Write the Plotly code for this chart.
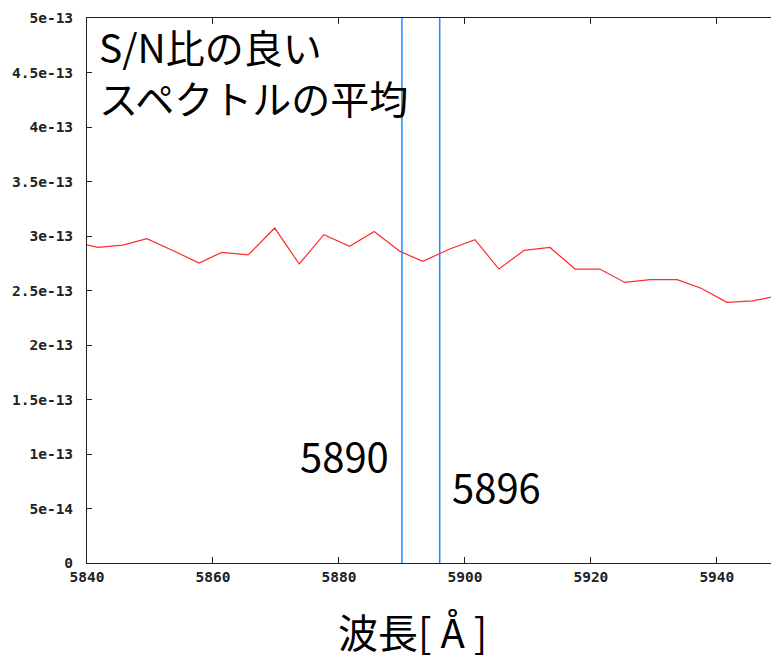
import plotly.graph_objects as go

# ---- data ----
wavelength = [5837.8, 5841.7, 5845.7, 5849.5, 5853.7, 5857.8, 5861.4, 5865.6, 5869.8,
              5873.7, 5877.6, 5881.7, 5885.6, 5889.7, 5893.3, 5897.6, 5901.6, 5905.4,
              5909.4, 5913.5, 5917.5, 5921.4, 5925.4, 5929.4, 5933.7, 5937.5, 5941.6,
              5945.7, 5949.7]
flux_1e13 = [2.95, 2.895, 2.916, 2.975, 2.865, 2.752, 2.850, 2.826, 3.073,
             2.743, 3.012, 2.905, 3.042, 2.859, 2.767, 2.881, 2.966, 2.697,
             2.868, 2.895, 2.697, 2.697, 2.574, 2.599, 2.599, 2.521, 2.391,
             2.404, 2.452]
flux = [v * 1e-13 for v in flux_1e13]

marker_lines = [5890, 5896]
marker_labels = ["5890", "5896"]

x_tickvals = [5840, 5860, 5880, 5900, 5920, 5940]
x_ticktext = ["5840", "5860", "5880", "5900", "5920", "5940"]
y_tickvals = [0, 5e-14, 1e-13, 1.5e-13, 2e-13, 2.5e-13, 3e-13, 3.5e-13, 4e-13, 4.5e-13, 5e-13]
y_ticktext = ["0", "5e-14", "1e-13", "1.5e-13", "2e-13", "2.5e-13", "3e-13",
              "3.5e-13", "4e-13", "4.5e-13", "5e-13"]

title_text = "S/N比の良い<br>スペクトルの平均"
xlabel_text = "波長[ Å ]"

x_range = [5840, 5948.6]
y_range = [0, 5e-13]

W, H = 771, 660
ML, MR, MT, MB = 87, 0, 18, 97
PW, PH = W - ML - MR, H - MT - MB


def px(xp):
    return (xp - ML) / PW


def py(yp):
    return (H - MB - yp) / PH


fig = go.Figure()

fig.add_trace(go.Scatter(x=wavelength, y=flux, mode="lines",
                         line=dict(color="#ff2a2a", width=1.2),
                         showlegend=False, hoverinfo="skip"))

for xv in marker_lines:
    fig.add_trace(go.Scatter(x=[xv, xv], y=y_range, mode="lines",
                             line=dict(color="#1a8cff", width=1.5),
                             showlegend=False, hoverinfo="skip"))

tick_font = dict(family="DejaVu Sans Mono", size=14.5, color="#222", weight="bold")
cjk = "Noto Sans CJK JP"

fig.update_layout(
    width=W, height=H,
    margin=dict(l=ML, r=MR, t=MT, b=MB),
    paper_bgcolor="white", plot_bgcolor="white",
    xaxis=dict(range=x_range, tickvals=x_tickvals, ticktext=x_ticktext,
               showgrid=False, zeroline=False, showline=True, linecolor="#222",
               linewidth=1, mirror="ticks", ticks="inside", ticklen=6,
               tickcolor="#222", tickfont=tick_font, ticklabelstandoff=1),
    yaxis=dict(range=y_range, tickvals=y_tickvals, ticktext=y_ticktext,
               showgrid=False, zeroline=False, showline=True, linecolor="#222",
               linewidth=1, mirror=False, ticks="inside", ticklen=5,
               tickcolor="#222", tickfont=tick_font, ticklabelstandoff=10),
    annotations=[
        dict(text=title_text, xref="paper", yref="paper", x=px(97), y=py(16),
             xanchor="left", yanchor="top", align="left", showarrow=False,
             font=dict(family=cjk, size=39, color="black")),
        dict(text=marker_labels[0], xref="paper", yref="paper", x=px(344), y=py(455),
             xanchor="center", yanchor="middle", showarrow=False,
             font=dict(family=cjk, size=40, color="black")),
        dict(text=marker_labels[1], xref="paper", yref="paper", x=px(496), y=py(486),
             xanchor="center", yanchor="middle", showarrow=False,
             font=dict(family=cjk, size=40, color="black")),
        dict(text=xlabel_text, xref="paper", yref="paper", x=px(412), y=py(631),
             xanchor="center", yanchor="middle", showarrow=False,
             font=dict(family=cjk, size=40, color="black")),
    ],
)

fig.write_html("out.html", config={"displayModeBar": False},
               post_script="document.body.style.margin='0';document.body.style.overflow='hidden';")
